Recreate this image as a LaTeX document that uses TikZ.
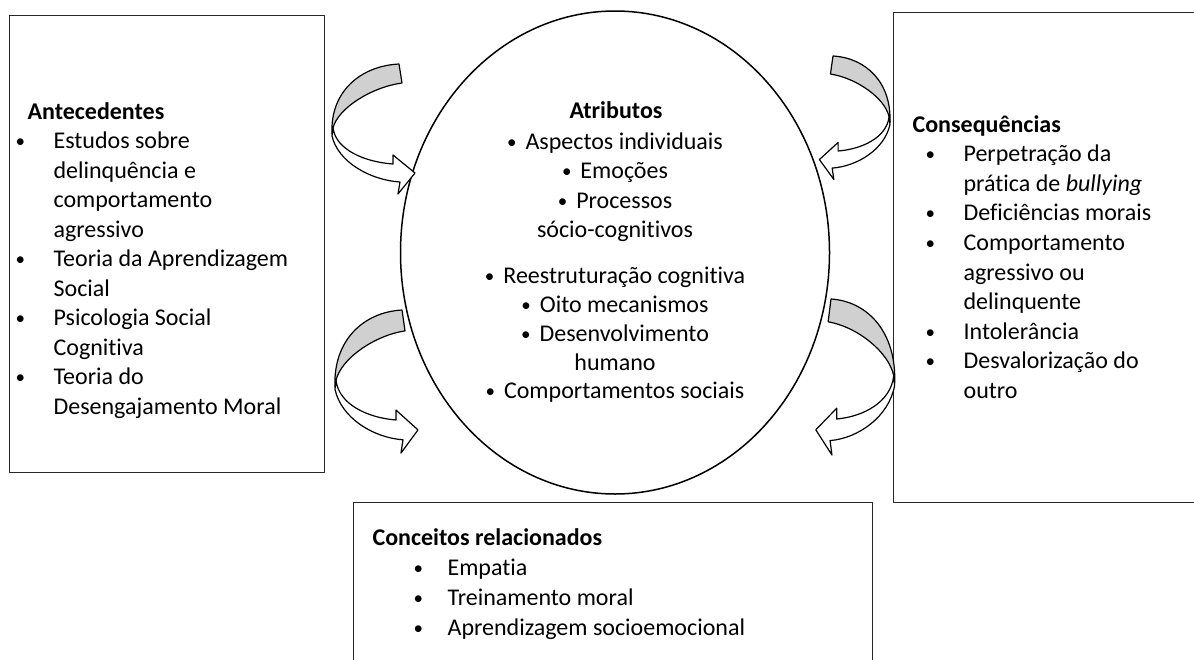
\documentclass[tikz,border=0pt]{standalone}
\usepackage{fontspec}
\setmainfont{Carlito}[Ligatures={NoCommon,NoContextual}]
\usetikzlibrary{shapes.geometric}
\definecolor{bandgray}{RGB}{208,208,208}
\newcommand{\bul}{{\fontsize{19}{19}\selectfont\raisebox{1pt}{•}}}
\newcommand{\cbul}{\bul\hspace{9pt}}
\tikzset{
  box/.style={draw=black!85,line width=1.3pt,anchor=north west,inner sep=0pt},
  txt/.style={anchor=base west,inner sep=0pt},
  mid/.style={anchor=base,inner sep=0pt},
  curvarrow/.pic={
    \draw[fill=bandgray] (0,0) .. controls (-39,2) and (-69,28) .. (-67,70) -- (-66,64)
      .. controls (-61,44) and (-27,23) .. (3,19) -- cycle;
    \draw[fill=white] (-66,64) .. controls (-63,86) and (-34,98) .. (-6,100) -- (-6,91)
      -- (16,109) -- (-1,130) -- (1,118) .. controls (-29,116) and (-61,98) .. (-67,72) -- cycle;
  }
}
\begin{document}
\begin{tikzpicture}[x=1pt,y=-1pt,line join=round,line width=1.2pt,font=\fontsize{24}{29}\selectfont]
	\useasboundingbox (0,0) rectangle (1194,659);
	% boxes and ellipse
	\node[box,minimum width=315pt,minimum height=457pt] (antbox) at (9,15) {};
	\node[box,minimum width=320pt,minimum height=490pt] (conbox) at (893,12) {};
	\node[box,minimum width=519pt,minimum height=180pt] (relbox) at (353,502) {};
	\node[draw,ellipse,line width=1.5pt,minimum width=429pt,minimum height=483pt,inner sep=0pt] (atrib) at (615,252.5) {};
	% curved arrows
	\pic (tl) at (399,64) {curvarrow};
	\pic[xscale=-0.85,yscale=0.95] (tr) at (833,56) {curvarrow};
	\pic[yscale=1.1] (bl) at (402,310) {curvarrow};
	\pic[xscale=-0.95,yscale=1.2] (br) at (831,299) {curvarrow};
	% antecedentes
	\node[txt] (anthead) at (27,119) {\textbf{Antecedentes}};
	\foreach \t [count=\i] in {Estudos sobre,delinquência e,comportamento,agressivo,Teoria da Aprendizagem,Social,Psicologia Social,Cognitiva,Teoria do,Desengajamento Moral}
		\node[txt] (ant\i) at (53,119+29.5*\i) {\t};
	\foreach \i in {1,5,7,9}
		\node[txt] (antb\i) at (15,119+29.5*\i) {\bul};
	% consequencias
	\node[txt] (conhead) at (912,132) {\textbf{Consequências}};
	\foreach \t [count=\i] in {Perpetração da,{prática de \textit{bullying}},Deficiências morais,Comportamento,agressivo ou,delinquente,Intolerância,Desvalorização do,outro}
		\node[txt] (con\i) at (963,132+29.6*\i) {\t};
	\foreach \i in {1,3,4,7,8}
		\node[txt] (conb\i) at (925,132+29.6*\i) {\bul};
	% conceitos relacionados
	\node[txt] (relhead) at (372,545) {\textbf{Conceitos relacionados}};
	\foreach \t [count=\i] in {Empatia,Treinamento moral,Aprendizagem socioemocional}
		\node[txt] (rel\i) at (447,545+30*\i) {\t};
	\foreach \i in {1,2,3}
		\node[txt] (relb\i) at (413,545+30*\i) {\bul};
	% atributos
	\node[mid] (athead) at (616,118) {\textbf{Atributos}};
	\node[mid] (at1) at (615,149) {\cbul Aspectos individuais};
	\node[mid] (at2) at (615,178) {\cbul Emoções};
	\node[mid] (at3) at (615,208) {\cbul Processos};
	\node[mid] (at4) at (615,237) {sócio-cognitivos};
	\node[mid] (at5) at (615,283) {\cbul Reestruturação cognitiva};
	\node[mid] (at6) at (615,312) {\cbul Oito mecanismos};
	\node[mid] (at7) at (615,341) {\cbul Desenvolvimento};
	\node[mid] (at8) at (615,370) {humano};
	\node[mid] (at9) at (615,398) {\cbul Comportamentos sociais};
\end{tikzpicture}
\end{document}
